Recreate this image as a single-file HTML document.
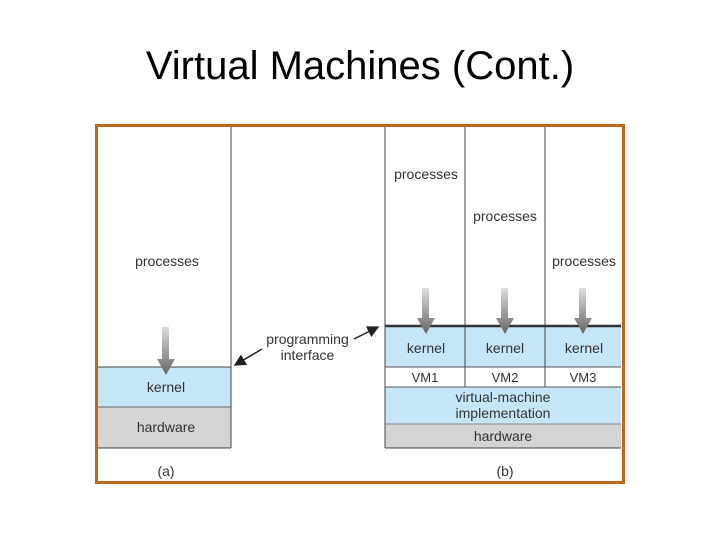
<!DOCTYPE html>
<html><head><style>
body{margin:0;width:720px;height:540px;background:#fff;position:relative;font-family:"Liberation Sans",sans-serif;overflow:hidden}
.a{position:absolute}
.t{position:absolute;font-size:14px;color:#333;text-align:center}
</style></head><body>
<div class="a" style="left:0;top:44px;width:720px;text-align:center;font-size:40px;color:#000">Virtual Machines (Cont.)</div>
<div class="a" style="left:95px;top:124px;width:524px;height:354px;border:3px solid #c0661a"></div>
<svg class="a" style="left:0;top:0" width="720" height="540">
<defs><linearGradient id="g" x1="0" y1="0" x2="0" y2="1"><stop offset="0" stop-color="#ddd"/><stop offset="1" stop-color="#666"/></linearGradient>
<marker id="m" markerWidth="8" markerHeight="8" refX="7" refY="4" orient="auto"><path d="M0,0L8,4L0,8z" fill="#222"/></marker></defs>
<rect x="98" y="367" width="133" height="40" fill="#c6e6f7"/>
<rect x="98" y="407" width="133" height="41" fill="#d4d4d4"/>
<line x1="231" y1="127" x2="231" y2="448" stroke="#444"/>
<line x1="98" y1="367" x2="231" y2="367" stroke="#444"/>
<line x1="98" y1="407" x2="231" y2="407" stroke="#666"/>
<line x1="98" y1="448" x2="231" y2="448" stroke="#444"/>
<rect x="385" y="327" width="236" height="40" fill="#c6e6f7"/>
<rect x="385" y="387" width="236" height="37" fill="#c6e6f7"/>
<rect x="385" y="424" width="236" height="24" fill="#d4d4d4"/>
<line x1="385" y1="127" x2="385" y2="448" stroke="#444"/>
<line x1="465" y1="127" x2="465" y2="387" stroke="#444"/>
<line x1="545" y1="127" x2="545" y2="387" stroke="#444"/>
<line x1="385" y1="326" x2="621" y2="326" stroke="#333" stroke-width="2.5"/>
<line x1="385" y1="367" x2="621" y2="367" stroke="#555"/>
<line x1="385" y1="387" x2="621" y2="387" stroke="#555"/>
<line x1="385" y1="424" x2="621" y2="424" stroke="#888"/>
<line x1="385" y1="448" x2="621" y2="448" stroke="#444"/>
<g fill="url(#g)">
<path d="M162,327h7v32h6l-9,16l-9,-16h5z"/>
<path d="M422,288h7v30h6l-9,16l-9,-16h5z"/>
<path d="M501,288h7v30h6l-9,16l-9,-16h5z"/>
<path d="M579,288h7v30h6l-9,16l-9,-16h5z"/>
</g>
<line x1="262" y1="349" x2="235" y2="365" stroke="#222" stroke-width="1.5" marker-end="url(#m)"/>
<line x1="354" y1="339" x2="378" y2="327" stroke="#222" stroke-width="1.5" marker-end="url(#m)"/>
</svg>
<div class="t" style="left:98px;top:253px;width:138px">processes</div>
<div class="t" style="left:98px;top:379px;width:136px">kernel</div>
<div class="t" style="left:98px;top:419px;width:136px">hardware</div>
<div class="t" style="left:98px;top:463px;width:136px">(a)</div>
<div class="t" style="left:250px;top:331px;width:115px;line-height:16px">programming<br>interface</div>
<div class="t" style="left:385px;top:166px;width:82px">processes</div>
<div class="t" style="left:465px;top:208px;width:80px">processes</div>
<div class="t" style="left:545px;top:253px;width:78px">processes</div>
<div class="t" style="left:385px;top:340px;width:82px">kernel</div>
<div class="t" style="left:465px;top:340px;width:80px">kernel</div>
<div class="t" style="left:545px;top:340px;width:78px">kernel</div>
<div class="t" style="left:385px;top:370px;width:80px;font-size:13px">VM1</div>
<div class="t" style="left:465px;top:370px;width:80px;font-size:13px">VM2</div>
<div class="t" style="left:545px;top:370px;width:76px;font-size:13px">VM3</div>
<div class="t" style="left:385px;top:389px;width:236px;line-height:16px">virtual-machine<br>implementation</div>
<div class="t" style="left:385px;top:428px;width:236px">hardware</div>
<div class="t" style="left:385px;top:463px;width:240px">(b)</div>
</body></html>
